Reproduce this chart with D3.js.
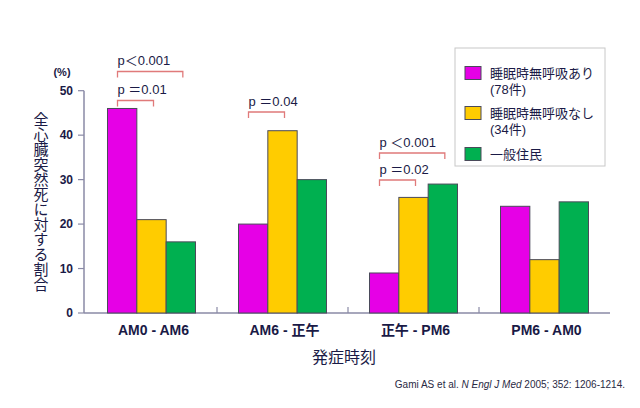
<!DOCTYPE html>
<html><head><meta charset="utf-8">
<script src="https://cdn.jsdelivr.net/npm/d3@7"></script>
<style>
html,body{margin:0;padding:0;background:#fff;}
svg{display:block;font-family:"Liberation Sans","Noto Sans CJK JP",sans-serif;}
</style></head>
<body><svg id="c" width="640" height="408"></svg>
<script>
const categories = ["AM0 - AM6", "AM6 - 正午", "正午 - PM6", "PM6 - AM0"];
const seriesNames = ["睡眠時無呼吸あり", "睡眠時無呼吸なし", "一般住民"];
const seriesSub = ["(78件)", "(34件)", ""];
const apneaYes = [46, 20, 9, 24];
const apneaNo = [21, 41, 26, 12];
const general = [16, 30, 29, 25];
const yTicks = [0, 10, 20, 30, 40, 50];
const colors = ["#e600e6", "#ffcc00", "#00b050"];
// p-value annotations: category index, to series, label, bracket top
const pAnnots = [
  {cat: 0, to: 2, label: "p＜0.001", top: 71.5},
  {cat: 0, to: 1, label: "p ＝0.01", top: 100.5},
  {cat: 1, to: 1, label: "p ＝0.04", top: 112},
  {cat: 2, to: 2, label: "p ＜0.001", top: 153},
  {cat: 2, to: 1, label: "p ＝0.02", top: 180}
];

const series = [apneaYes, apneaNo, general];
const svg = d3.select("#c");
const ink = "#1a1a46";
const axisCol = "#8a8aa6";

const x = d3.scaleBand().domain(categories).range([86, 610]).paddingInner(0).paddingOuter(0);
const xs = d3.scaleBand().domain([0,1,2]).range([21.5, x.bandwidth()-21.5]);
const y = d3.scaleLinear().domain([0, 50]).range([313, 90.7]);

// axes
svg.append("line").attr("x1", 84).attr("x2", 84).attr("y1", y(50)).attr("y2", y(0)).attr("stroke", axisCol).attr("stroke-width", 1.5);
svg.append("line").attr("x1", 84).attr("x2", 610).attr("y1", y(0)).attr("y2", y(0)).attr("stroke", axisCol).attr("stroke-width", 1.5);
yTicks.forEach(t => {
  svg.append("line").attr("x1", 78).attr("x2", 84).attr("y1", y(t)).attr("y2", y(t)).attr("stroke", axisCol).attr("stroke-width", 1.2);
  svg.append("text").attr("x", 73).attr("y", y(t)).attr("dy", "0.36em").attr("text-anchor", "end")
    .attr("font-size", 12).attr("font-weight", "bold").attr("fill", ink).text(t);
});
categories.slice(1).forEach(c => {
  svg.append("line").attr("x1", x(c)).attr("x2", x(c)).attr("y1", y(0)-6).attr("y2", y(0)).attr("stroke", axisCol).attr("stroke-width", 1.2);
});

// bars
categories.forEach((c, i) => {
  series.forEach((s, j) => {
    svg.append("rect").attr("x", x(c) + xs(j)).attr("y", y(s[i])).attr("width", xs.bandwidth()).attr("height", y(0) - y(s[i]))
      .attr("fill", colors[j]).attr("stroke", "#4a4a5a").attr("stroke-width", 1);
  });
  svg.append("text").attr("x", x(c) + x.bandwidth()/2 + 2).attr("y", 330).attr("dy", "0.36em").attr("text-anchor", "middle")
    .attr("font-size", 14).attr("font-weight", "bold").attr("fill", ink).text(c);
});

// p annotations
const bcol = "#e07a7a";
pAnnots.forEach(a => {
  const c = categories[a.cat];
  const x1 = x(c) + xs(0) + 10;
  const x2 = x(c) + xs(a.to) + xs.bandwidth()/2 + 2;
  svg.append("path").attr("d", `M${x1},${a.top+6}V${a.top}H${x2}V${a.top+6}`).attr("fill", "none").attr("stroke", bcol).attr("stroke-width", 1.3);
  svg.append("text").attr("x", x1).attr("y", a.top - 11).attr("dy", "0.36em").attr("font-size", 13).attr("fill", ink).text(a.label);
});

// y labels
svg.append("text").attr("x", 62).attr("y", 72).attr("dy", "0.36em").attr("text-anchor", "middle").attr("font-size", 11).attr("font-weight", "bold").attr("fill", ink).text("(%)");
svg.append("text").attr("x", 41).attr("y", 202).attr("text-anchor", "middle")
  .attr("style", "writing-mode:vertical-rl;font-family:'Noto Sans CJK JP'").attr("font-size", 15).attr("fill", ink).text("全心臓突然死に対する割合");

// x title
svg.append("text").attr("x", 344).attr("y", 357).attr("dy", "0.36em").attr("text-anchor", "middle").attr("font-size", 16).attr("fill", ink)
  .attr("style", "font-family:'Noto Sans CJK JP'").text("発症時刻");

// citation
const cit = svg.append("text").attr("x", 625).attr("y", 384).attr("dy", "0.36em").attr("text-anchor", "end").attr("font-size", 10).attr("fill", "#2a2a44");
cit.append("tspan").text("Gami AS et al. ");
cit.append("tspan").attr("font-style", "italic").text("N Engl J Med");
cit.append("tspan").text(" 2005; 352: 1206-1214.");

// legend
svg.append("rect").attr("x", 455).attr("y", 48).attr("width", 150).attr("height", 118).attr("fill", "#fff").attr("stroke", "#c8c8c8").attr("stroke-width", 1);
const ly = [73, 113, 154];
seriesNames.forEach((n, j) => {
  svg.append("rect").attr("x", 465).attr("y", ly[j]-6.5).attr("width", 16).attr("height", 13).attr("fill", colors[j]).attr("stroke", "#4a4a5a").attr("stroke-width", 1);
  svg.append("text").attr("x", 490).attr("y", ly[j]).attr("dy", "0.36em").attr("font-size", 13).attr("fill", ink)
    .attr("style", "font-family:'Noto Sans CJK JP'").text(n);
  if (seriesSub[j]) svg.append("text").attr("x", 490).attr("y", ly[j]+16.5).attr("dy", "0.36em").attr("font-size", 13).attr("fill", ink).text(seriesSub[j]);
});
</script></body></html>
